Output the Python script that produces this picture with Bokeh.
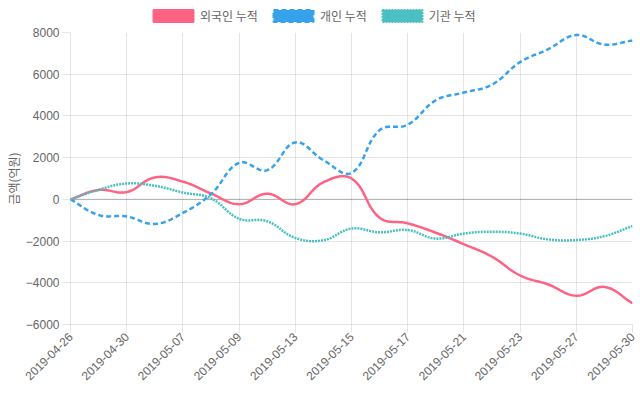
import math
import numpy as np
from bokeh.plotting import figure
from bokeh.layouts import column
from bokeh.models import FixedTicker, Span, Legend, LegendItem, Range1d
from bokeh.embed import file_html
from bokeh.resources import INLINE

dates = ["2019-04-26", "2019-04-29", "2019-04-30", "2019-05-02", "2019-05-07",
         "2019-05-08", "2019-05-09", "2019-05-10", "2019-05-13", "2019-05-14",
         "2019-05-15", "2019-05-16", "2019-05-17", "2019-05-20", "2019-05-21",
         "2019-05-22", "2019-05-23", "2019-05-24", "2019-05-27", "2019-05-28",
         "2019-05-30"]
foreign = [0, 450, 350, 1050, 850, 280, -230, 270, -230, 820, 1000, -880, -1150,
           -1600, -2150, -2750, -3650, -4080, -4620, -4200, -4980]
individual = [0, -750, -820, -1180, -650, 250, 1750, 1400, 2730, 1880, 1270, 3320,
              3580, 4750, 5120, 5500, 6580, 7200, 7880, 7420, 7620]
institution = [0, 460, 760, 650, 330, 50, -930, -1050, -1850, -1960, -1400, -1580,
               -1470, -1880, -1640, -1550, -1640, -1920, -1950, -1760, -1280]
series_names = ["외국인 누적", "개인 누적", "기관 누적"]
y_ticks = [-6000, -4000, -2000, 0, 2000, 4000, 6000, 8000]

COLORS = ["rgb(255,99,132)", "rgb(54,162,235)", "rgb(75,192,192)"]
DASHES = ["solid", "5 3", "2 1"]

W, H = 640, 400
LEG_H = 26
ML, MR, MT, MB = 70, 8, 6, 76
FW, FH = W - ML - MR, H - LEG_H - MT - MB
N = len(dates)
SX = FW / (N - 1)
SY = FH / (y_ticks[-1] - y_ticks[0])


def smooth(vals, t=0.4, steps=24):
    # Chart.js style bezier smoothing (tension 0.4) computed in pixel space
    px = [(i * SX, -v * SY) for i, v in enumerate(vals)]
    n = len(px)
    cpp, cpn = [], []
    for i in range(n):
        prev = px[i - 1] if i > 0 else px[i]
        cur = px[i]
        nxt = px[i + 1] if i < n - 1 else px[i]
        d01 = math.hypot(cur[0] - prev[0], cur[1] - prev[1])
        d12 = math.hypot(nxt[0] - cur[0], nxt[1] - cur[1])
        tot = d01 + d12
        s01 = d01 / tot if tot else 0
        s12 = d12 / tot if tot else 0
        fa, fb = t * s01, t * s12
        cpp.append((cur[0] - fa * (nxt[0] - prev[0]), cur[1] - fa * (nxt[1] - prev[1])))
        cpn.append((cur[0] + fb * (nxt[0] - prev[0]), cur[1] + fb * (nxt[1] - prev[1])))
    xs, ys = [px[0][0]], [px[0][1]]
    for i in range(n - 1):
        p0, p1, p2, p3 = px[i], cpn[i], cpp[i + 1], px[i + 1]
        for k in range(1, steps + 1):
            u = k / steps
            a = (1 - u) ** 3
            b = 3 * (1 - u) ** 2 * u
            c = 3 * (1 - u) * u ** 2
            d = u ** 3
            xs.append(a * p0[0] + b * p1[0] + c * p2[0] + d * p3[0])
            ys.append(a * p0[1] + b * p1[1] + c * p2[1] + d * p3[1])
    return [x / SX for x in xs], [-y / SY for y in ys]


# legend strip on top
lg = figure(width=W, height=LEG_H, output_backend="svg", toolbar_location=None,
            x_range=Range1d(0, 1), y_range=Range1d(0, 1),
            min_border_left=0, min_border_right=0, min_border_top=0, min_border_bottom=0)
lg.axis.visible = False
lg.grid.visible = False
lg.outline_line_color = None

items = []
for name, col, dash in zip(series_names, COLORS, DASHES):
    # legend swatch proxy, kept outside the visible range
    r = lg.quad(left=[-3], right=[-2], top=[-2], bottom=[-3], fill_color=col,
                line_color=col, line_width=2, line_dash=dash)
    items.append(LegendItem(label=name, renderers=[r]))

legend = Legend(items=items, orientation="horizontal", location=(78, 2.5),
                padding=0, margin=0, spacing=10, label_standoff=2,
                glyph_width=50, glyph_height=15, label_height=15,
                border_line_color=None, background_fill_alpha=0,
                label_text_font="Noto Sans CJK KR", label_text_font_size="12px",
                label_text_color="#666666")
lg.add_layout(legend)

# main chart
p = figure(width=W, height=H - LEG_H, output_backend="svg", toolbar_location=None,
           x_range=Range1d(0, N - 1), y_range=Range1d(y_ticks[0], y_ticks[-1]),
           min_border_left=ML, min_border_right=MR, min_border_top=MT,
           min_border_bottom=MB)
p.outline_line_color = None

GRID = "rgba(0,0,0,0.1)"
p.xaxis.ticker = FixedTicker(ticks=list(range(0, N, 2)))
p.xaxis.major_label_overrides = {i: dates[i] for i in range(0, N, 2)}
p.xaxis.major_label_orientation = math.pi / 4
p.yaxis.ticker = FixedTicker(ticks=y_ticks)
p.yaxis.axis_label = "금액(억원)"
p.yaxis.axis_label_text_font = "Noto Sans CJK KR"
p.yaxis.axis_label_text_font_style = "normal"
p.yaxis.axis_label_text_font_size = "12px"
p.yaxis.axis_label_text_color = "#666666"
p.yaxis.axis_label_standoff = 1
for ax in (p.xaxis, p.yaxis):
    ax.major_label_text_font = "Liberation Sans"
    ax.major_label_text_font_size = "12px"
    ax.major_label_text_color = "#666666"
    ax.major_tick_out = 8
    ax.major_tick_in = 0
    ax.minor_tick_out = 0
    ax.minor_tick_in = 0
    ax.major_tick_line_color = GRID
    ax.axis_line_color = GRID
    ax.major_label_standoff = 3
p.xaxis.major_label_standoff = 2
p.xgrid.ticker = FixedTicker(ticks=list(range(0, N, 2)))
p.ygrid.ticker = FixedTicker(ticks=y_ticks)
p.grid.grid_line_color = GRID

zero = Span(location=0, dimension="width", line_color="rgba(0,0,0,0.25)", line_width=1,
            level="underlay")
p.add_layout(zero)

for vals, col, dash in zip([foreign, individual, institution], COLORS, DASHES):
    xs, ys = smooth(vals)
    p.line(xs, ys, line_color=col, line_width=2.5, line_dash=dash)

layout = column(lg, p, spacing=0)
open("out.html", "w").write(file_html(layout, INLINE))
